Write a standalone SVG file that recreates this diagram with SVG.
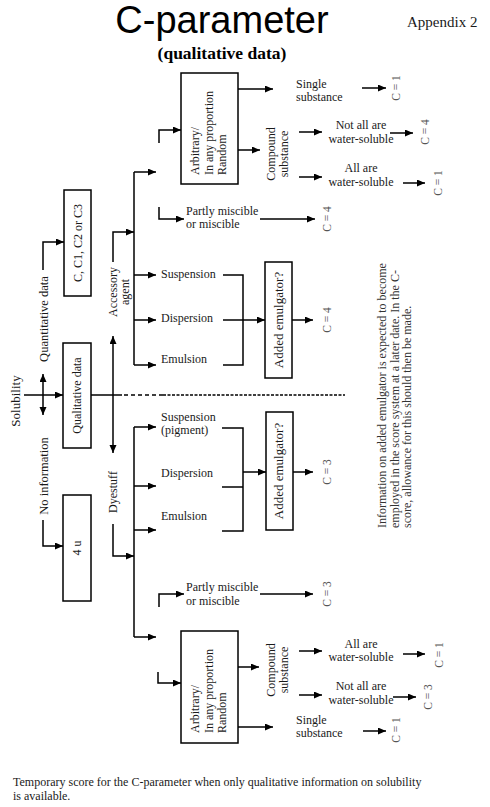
<svg xmlns="http://www.w3.org/2000/svg" width="490" height="807" viewBox="0 0 490 807">
<style>
  text { font-family: "Liberation Serif", "Times New Roman", serif; font-size: 12px; fill: #1a1a1a; }
  .title { font-family: "Liberation Sans", Arial, sans-serif; font-size: 38px; fill: #000; }
  .app { font-size: 15px; }
  .sub { font-size: 17.5px; font-weight: bold; fill: #000; }
  .m { text-anchor: middle; }
  .c { fill: #555; font-size: 11.5px; text-anchor: middle; }
  .lbl { font-size: 12.5px; text-anchor: middle; }
  .info { fill: #333; }
  .box { fill: #fff; stroke: #000; stroke-width: 1.5; }
  .ln { fill: none; stroke: #000; stroke-width: 1.5; }
  .ar { fill: none; stroke: #000; stroke-width: 1.5; marker-end: url(#ah); }
  .da { fill: none; stroke: #000; stroke-width: 1.5; marker-start: url(#ah); marker-end: url(#ah); }
  .dash { fill: none; stroke: #000; stroke-width: 1.5; }
</style>
<defs>
  <marker id="ah" markerUnits="userSpaceOnUse" markerWidth="9" markerHeight="8" refX="8" refY="3.5" orient="auto-start-reverse">
    <path d="M0,0 L8,3.5 L0,7 z" fill="#000"/>
  </marker>
</defs>
<rect width="490" height="807" fill="#fff"/>

<g id="header">
  <text class="title m" x="222" y="33">C-parameter</text>
  <text class="app" x="407" y="27">Appendix 2</text>
  <text class="sub m" x="222" y="59">(qualitative data)</text>
</g>

<g id="connectors">
  <!-- left side -->
  <path class="ar" d="M24,395 H63"/>
  <path class="da" d="M43,374 V415"/>
  <path class="ar" d="M43,270 V242 H64"/>
  <path class="ar" d="M43,520 V546 H63"/>
  <path class="ln" d="M91,395 H122"/>
  <path class="dash" d="M124,395 H163" stroke-dasharray="4,3"/>
  <path class="dash" d="M163,395 H345" stroke-dasharray="3,1.5"/>
  <path class="da" d="M113,336 V453"/>
  <!-- accessory agent -->
  <path class="ar" d="M113,262 V232 H134"/>
  <path class="ln" d="M134,172 V365"/>
  <path class="ar" d="M134,172 H156"/>
  <path class="ar" d="M134,275 H156"/>
  <path class="ar" d="M134,320 H156"/>
  <path class="ar" d="M134,365 H156"/>
  <path class="ar" d="M159,143 V130 H181"/>
  <path class="ar" d="M159,207 V219 H184"/>
  <path class="ar" d="M238,89 H273"/>
  <path class="ar" d="M238,150 H260"/>
  <path class="ar" d="M299,132 H322"/>
  <path class="ar" d="M299,177 H322"/>
  <path class="ar" d="M362,88 H386"/>
  <path class="ar" d="M390,133 H413"/>
  <path class="ar" d="M403,183 H425"/>
  <path class="ar" d="M260,219 H315"/>
  <path class="ln" d="M223,275 H243 V365 H223"/>
  <path class="ar" d="M223,320 H265"/>
  <path class="ar" d="M292,320 H313"/>
  <!-- dyestuff -->
  <path class="ar" d="M113,524 V556 H134"/>
  <path class="ln" d="M134,427 V637"/>
  <path class="ar" d="M134,427 H156"/>
  <path class="ar" d="M134,486 H156"/>
  <path class="ar" d="M134,530 H156"/>
  <path class="ar" d="M134,637 H156"/>
  <path class="ln" d="M222,428 H243 V531 H222"/>
  <path class="ln" d="M222,487 H243"/>
  <path class="ar" d="M243,472 H266"/>
  <path class="ar" d="M293,472 H313"/>
  <path class="ar" d="M159,607 V594 H184"/>
  <path class="ar" d="M260,594 H313"/>
  <path class="ar" d="M158,672 V683 H181"/>
  <path class="ar" d="M238,667 H259"/>
  <path class="ar" d="M238,727 H273"/>
  <path class="ar" d="M299,651 H322"/>
  <path class="ar" d="M299,695 H322"/>
  <path class="ar" d="M403,654 H425"/>
  <path class="ar" d="M393,697 H416"/>
  <path class="ar" d="M363,731 H386"/>
</g>

<g id="solubility">
  <text x="19.5" y="401" transform="rotate(-90 19.5 401)" class="m" style="font-size:13px">Solubility</text>
</g>
<g id="quantitative-label">
  <text x="48" y="319" transform="rotate(-90 48 319)" class="lbl">Quantitative data</text>
</g>
<g id="noinfo-label">
  <text x="48" y="476" transform="rotate(-90 48 476)" class="lbl">No information</text>
</g>
<g id="box-c">
  <rect class="box" x="64" y="190" width="27" height="106"/>
  <text x="82" y="243" transform="rotate(-90 82 243)" class="m">C, C1, C2 or C3</text>
</g>
<g id="box-qualitative">
  <rect class="box" x="63" y="343" width="28" height="105"/>
  <text x="81" y="395.5" transform="rotate(-90 81 395.5)" class="m">Qualitative data</text>
</g>
<g id="box-4u">
  <rect class="box" x="63" y="495" width="28" height="106"/>
  <text x="81" y="548" transform="rotate(-90 81 548)" class="m">4 u</text>
</g>
<g id="accessory-label">
  <text x="117" y="292" transform="rotate(-90 117 292)" class="m">Accessory</text>
  <text x="129" y="292" transform="rotate(-90 129 292)" class="m">agent</text>
</g>
<g id="dyestuff-label">
  <text x="117" y="492" transform="rotate(-90 117 492)" class="m">Dyestuff</text>
</g>

<g id="box-arbitrary-top">
  <rect class="box" x="181" y="73" width="57" height="111"/>
  <text x="199" y="175" transform="rotate(-90 199 175)">Arbitrary/</text>
  <text x="213" y="175" transform="rotate(-90 213 175)">In any proportion</text>
  <text x="226" y="175" transform="rotate(-90 226 175)">Random</text>
</g>
<g id="single-top">
  <text x="296" y="88">Single</text>
  <text x="296" y="101">substance</text>
  <text x="400" y="88" transform="rotate(-90 400 88)" class="c">C = 1</text>
</g>
<g id="compound-top">
  <text x="275" y="154" transform="rotate(-90 275 154)" class="m">Compound</text>
  <text x="288" y="154" transform="rotate(-90 288 154)" class="m">substance</text>
</g>
<g id="notall-top">
  <text x="361" y="129" class="m">Not all are</text>
  <text x="361" y="143" class="m">water-soluble</text>
  <text x="429" y="132" transform="rotate(-90 429 132)" class="c">C = 4</text>
</g>
<g id="all-top">
  <text x="361" y="172" class="m">All are</text>
  <text x="361" y="186" class="m">water-soluble</text>
  <text x="442" y="183" transform="rotate(-90 442 183)" class="c">C = 1</text>
</g>
<g id="partly-top">
  <text x="186" y="215">Partly miscible</text>
  <text x="186" y="228">or miscible</text>
  <text x="331" y="219" transform="rotate(-90 331 219)" class="c">C = 4</text>
</g>
<g id="acc-forms">
  <text x="161" y="278">Suspension</text>
  <text x="161" y="322">Dispersion</text>
  <text x="161" y="363">Emulsion</text>
</g>
<g id="box-emulgator-top">
  <rect class="box" x="265" y="262" width="27" height="116"/>
  <text x="283" y="320" transform="rotate(-90 283 320)" class="m" style="font-size:13px">Added emulgator?</text>
  <text x="331" y="320" transform="rotate(-90 331 320)" class="c">C = 4</text>
</g>

<g id="note">
  <text class="info" x="386" y="528" transform="rotate(-90 386 528)">Information on added emulgator is expected to become</text>
  <text class="info" x="398.5" y="528" transform="rotate(-90 398.5 528)">employed in the score system at a later date. In the C-</text>
  <text class="info" x="411" y="528" transform="rotate(-90 411 528)">score, allowance for this should then be made.</text>
</g>

<g id="dye-forms">
  <text x="161" y="421">Suspension</text>
  <text x="161" y="434">(pigment)</text>
  <text x="161" y="477">Dispersion</text>
  <text x="161" y="520">Emulsion</text>
</g>
<g id="box-emulgator-bottom">
  <rect class="box" x="266" y="412" width="27" height="118"/>
  <text x="283" y="471" transform="rotate(-90 283 471)" class="m" style="font-size:13px">Added emulgator?</text>
  <text x="331" y="472" transform="rotate(-90 331 472)" class="c">C = 3</text>
</g>
<g id="partly-bottom">
  <text x="186" y="591">Partly miscible</text>
  <text x="186" y="605">or miscible</text>
  <text x="331" y="594" transform="rotate(-90 331 594)" class="c">C = 3</text>
</g>
<g id="box-arbitrary-bottom">
  <rect class="box" x="181" y="631" width="57" height="112"/>
  <text x="199" y="733" transform="rotate(-90 199 733)">Arbitrary/</text>
  <text x="213" y="733" transform="rotate(-90 213 733)">In any proportion</text>
  <text x="226" y="733" transform="rotate(-90 226 733)">Random</text>
</g>
<g id="compound-bottom">
  <text x="275" y="670" transform="rotate(-90 275 670)" class="m">Compound</text>
  <text x="288" y="670" transform="rotate(-90 288 670)" class="m">substance</text>
</g>
<g id="all-bottom">
  <text x="361" y="648" class="m">All are</text>
  <text x="361" y="661" class="m">water-soluble</text>
  <text x="443" y="655" transform="rotate(-90 443 655)" class="c">C = 1</text>
</g>
<g id="notall-bottom">
  <text x="361" y="690" class="m">Not all are</text>
  <text x="361" y="704" class="m">water-soluble</text>
  <text x="432" y="697" transform="rotate(-90 432 697)" class="c">C = 3</text>
</g>
<g id="single-bottom">
  <text x="296" y="724">Single</text>
  <text x="296" y="737">substance</text>
  <text x="400" y="730" transform="rotate(-90 400 730)" class="c">C = 1</text>
</g>

<g id="caption">
  <text x="13" y="786">Temporary score for the C-parameter when only qualitative information on solubility</text>
  <text x="13" y="800">is available.</text>
</g>
</svg>
